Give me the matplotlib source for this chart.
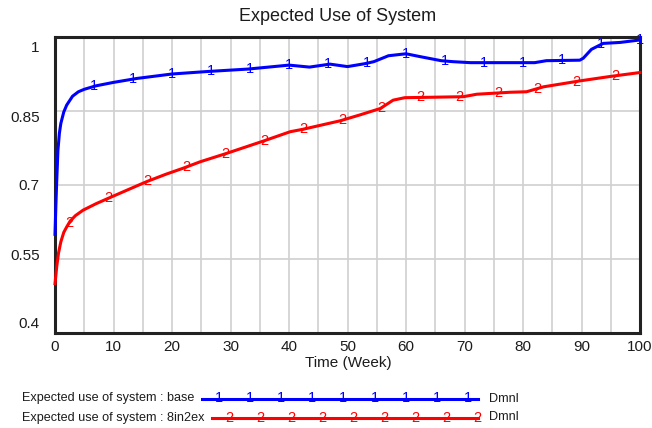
import numpy as np
import matplotlib
matplotlib.use("Agg")
import matplotlib.pyplot as plt
from matplotlib.lines import Line2D
from matplotlib.transforms import ScaledTranslation

plt.rcParams['font.family'] = ['Liberation Sans', 'DejaVu Sans']

# Simulation output: Expected use of system (Dmnl) over time (weeks)
base_t = [0, 0.15, 0.3, 0.5, 0.75, 1, 1.5, 2, 3, 4, 5, 7, 10, 14, 20, 26, 33,
          40, 43.5, 47, 50, 53, 54.5, 57, 60, 62.5, 66, 68, 71, 78, 82, 84,
          89.7, 90.3, 91.7, 93.7, 96.6, 100]
base_v = [0.60, 0.66, 0.71, 0.77, 0.805, 0.825, 0.848, 0.862, 0.880, 0.889,
          0.894, 0.901, 0.908, 0.916, 0.925, 0.930, 0.935, 0.943, 0.939, 0.945,
          0.940, 0.946, 0.950, 0.962, 0.966, 0.960, 0.952, 0.950, 0.948, 0.948,
          0.948, 0.952, 0.953, 0.957, 0.975, 0.987, 0.989, 0.994]

alt_t = [0, 0.3, 0.6, 1, 1.5, 2, 2.6, 3.5, 4.8, 7, 9.1, 12, 15.7, 19, 21.9,
         24.8, 29.3, 35.6, 40.2, 42.4, 48.7, 52.1, 55.6, 57.8, 59.8, 65, 69.8,
         72.1, 77.8, 80.6, 83.5, 89.7, 94.9, 100]
alt_v = [0.50, 0.535, 0.562, 0.585, 0.604, 0.615, 0.627, 0.638, 0.649, 0.662,
         0.673, 0.688, 0.707, 0.722, 0.734, 0.747, 0.764, 0.789, 0.808, 0.813,
         0.830, 0.842, 0.855, 0.872, 0.877, 0.878, 0.879, 0.884, 0.888, 0.889,
         0.899, 0.911, 0.920, 0.928]

series_names = ["Expected use of system : base", "Expected use of system : 8in2ex"]
series_ids = ["1", "2"]
series_colors = ["#0000ff", "#ff0000"]
units = "Dmnl"

x_ticks = list(range(0, 101, 10))
y_ticks = [0.4, 0.55, 0.7, 0.85, 1.0]
y_tick_labels = ["0.4", "0.55", "0.7", "0.85", "1"]

# marker spacing along each run (weeks)
step = 100 / 15
base_marks = [step * k for k in range(1, 16)]
alt_marks = [2.4 + step * k for k in range(0, 15)]

TXT = "#1c1c1c"
W, H = 652, 428
fig = plt.figure(figsize=(W / 100, H / 100), dpi=100)
ax = fig.add_axes([55 / W, 95 / H, 585 / W, 296 / H])

ax.set_xlim(0, 100)
ax.set_ylim(0.4, 1.0)
ax.set_xticks(x_ticks)
ax.set_xticks(range(5, 100, 10), minor=True)
ax.set_yticks(y_ticks)
ax.set_yticklabels(y_tick_labels)
ax.grid(which="both", color="#d0d0d0", lw=1.2)
ax.set_axisbelow(True)
ax.tick_params(which="both", length=0, labelsize=11, colors=TXT)
ax.tick_params(axis="x", pad=5)
ax.tick_params(axis="y", pad=11)
for s in ax.spines.values():
    s.set_color("#222222")
    s.set_linewidth(2.2)

# spread the y labels so the end labels stay inside the frame
shifts = [10, 5, 1, -5, -10]
for lab, d in zip(ax.get_yticklabels(), shifts):
    lab.set_transform(lab.get_transform() + ScaledTranslation(0, d / 100, fig.dpi_scale_trans))

runs = [(base_t, base_v, base_marks), (alt_t, alt_v, alt_marks)]
for (t, v, marks), sid, col in zip(runs, series_ids, series_colors):
    ax.plot(t, v, color=col, lw=2.2, solid_joinstyle="round", zorder=3, clip_on=False)
    for m in marks:
        ax.text(m, np.interp(m, t, v), sid, color=col, fontsize=10.5,
                ha="center", va="center", zorder=4, clip_on=False)

fig.text(337.5 / W, 1 - 16.5 / H, "Expected Use of System", fontsize=13,
         color=TXT, ha="center", va="center")
fig.text(348 / W, 1 - 363 / H, "Time (Week)", fontsize=11, color=TXT,
         ha="center", va="center")

# legend rows
rows = [(398.5, 202, 219), (417.5, 212, 229)]
for (yy, x0, m0), name, sid, col in zip(rows, series_names, series_ids, series_colors):
    fy = 1 - yy / H
    fig.text(22 / W, fy, name, fontsize=9.1, color=TXT, ha="left", va="center")
    fig.add_artist(Line2D([x0 / W, 478 / W], [fy, fy], color=col, lw=2.2,
                          transform=fig.transFigure))
    for k in range(9):
        fig.text((m0 + 31.1 * k) / W, fy, sid, fontsize=10.5, color=col,
                 ha="center", va="center")
    fig.text(489 / W, fy, units, fontsize=9.1, color=TXT, ha="left", va="center")

fig.savefig("out.png", dpi=100)
